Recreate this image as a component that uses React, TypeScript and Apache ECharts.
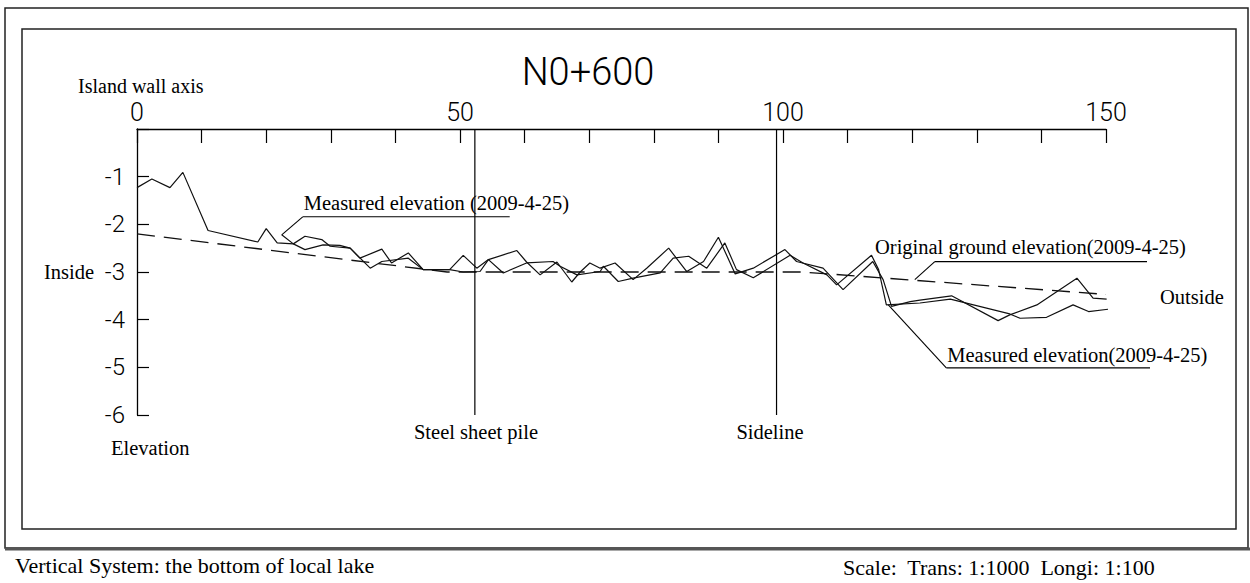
import React, { useEffect, useRef } from "react";
import * as echarts from "echarts";

// ---- data (distance in m, elevation in m) ----
const xTickLabels = [0, 50, 100, 150];
const yTickValues = [-1, -2, -3, -4, -5, -6];

const originalGround: [number, number][] = [
  [0, -2.2], [48, -3.0], [103, -3.0], [150, -3.47],
];

const measuredA: [number, number][] = [
  [0, -1.23], [2.3, -1.05], [5.1, -1.23], [7.1, -0.91], [11, -2.13],
  [18.7, -2.37], [20, -2.09], [21.7, -2.39], [24.2, -2.41], [26, -2.53],
  [28.8, -2.43], [31.4, -2.44], [33, -2.5], [34.5, -2.71], [37.9, -2.52],
  [39.4, -2.81], [42, -2.6], [44.3, -2.95], [48.4, -2.95], [50.5, -2.65],
  [52.6, -2.92], [54.4, -2.74], [58.8, -2.55], [60.3, -2.79], [62.4, -3.06],
  [65, -2.79], [67.3, -3.21], [68.6, -3.0], [70.1, -2.81], [71.7, -2.92],
  [74, -2.81], [76.8, -3.16], [78.9, -2.92], [82.3, -2.5], [85.1, -2.99],
  [87.7, -2.78], [90, -2.27], [92.6, -3.04], [95.4, -2.92], [100.3, -2.53],
  [102.1, -2.78], [106.2, -2.92], [109.3, -3.37], [113.9, -2.78], [115.5, -3.16],
  [116.8, -3.72], [119.7, -3.62], [121.2, -3.59], [126.1, -3.5], [133.3, -4.02],
  [135.1, -3.9], [139.3, -3.69], [145.5, -3.13], [148, -3.55], [150.1, -3.57],
];

const measuredB: [number, number][] = [
  [22.4, -2.22], [24.2, -2.41], [26, -2.25], [28.6, -2.32], [29.9, -2.46],
  [33, -2.5], [36.1, -2.92], [37.9, -2.78], [42, -2.71], [44.3, -2.95],
  [48.4, -2.95], [50.5, -3.0], [53.1, -2.99], [54.4, -2.74], [56.7, -3.02],
  [60.3, -2.81], [64.4, -2.78], [65.5, -2.88], [68.1, -3.06], [71.7, -2.99],
  [72.2, -2.88], [74.5, -3.2], [76.8, -3.13], [81, -3.02], [83, -2.71],
  [85.4, -2.67], [88.2, -2.92], [91, -2.39], [92.8, -2.95], [95.4, -3.12],
  [101.1, -2.65], [103.1, -2.81], [106.8, -3.06], [108.3, -3.27], [113.7, -2.65],
  [114.8, -2.95], [116, -3.69], [121.2, -3.65], [125.9, -3.57], [135.1, -3.88],
  [136.7, -3.97], [140.8, -3.95], [144.9, -3.69], [147.3, -3.83], [150.4, -3.78],
];

const steelPileX = 52.3;
const sidelineX = 99;

const SERIF = "'Liberation Serif', 'Times New Roman', serif";
const CAD = "'Roboto Light', Roboto, 'DejaVu Sans', sans-serif";

export default function App() {
  const ref = useRef<HTMLDivElement>(null);

  useEffect(() => {
    const chart = echarts.init(ref.current!, null, { renderer: "svg" });
    const lineStyle = { color: "#111", width: 1.2 };
    chart.setOption({
      animation: false,
      backgroundColor: "#fff",
      grid: { left: 137, top: 129, right: 144, bottom: 168 },
      xAxis: {
        type: "value",
        position: "top",
        min: 0,
        max: 150,
        interval: 10,
        axisLine: { show: true, lineStyle: { color: "#000", width: 1.3 } },
        axisTick: { show: true, inside: true, length: 14, lineStyle: { color: "#000", width: 1.2 } },
        splitLine: { show: false },
        axisLabel: {
          margin: 4,
          showMinLabel: true,
          showMaxLabel: true,
          formatter: (v: number) => (xTickLabels.includes(v) ? String(v) : ""),
          fontSize: 25,
          lineHeight: 25,
          fontFamily: CAD,
          fontWeight: 300,
          color: "#000",
        },
      },
      yAxis: {
        type: "value",
        min: -6,
        max: 0,
        interval: 1,
        axisLine: { show: true, lineStyle: { color: "#000", width: 1.3 } },
        axisTick: { show: true, inside: true, length: 12, lineStyle: { color: "#000", width: 1.2 } },
        splitLine: { show: false },
        axisLabel: {
          margin: 12,
          formatter: (v: number) => (yTickValues.includes(v) ? String(v) : ""),
          fontSize: 24,
          fontFamily: CAD,
          fontWeight: 300,
          color: "#000",
        },
      },
      series: [
        {
          type: "line",
          name: "Original ground elevation",
          data: originalGround,
          showSymbol: false,
          lineStyle: { color: "#111", width: 1.3, type: [18, 9] },
        },
        {
          type: "line",
          name: "Measured A",
          data: measuredA,
          showSymbol: false,
          lineStyle,
        },
        {
          type: "line",
          name: "Measured B",
          data: measuredB,
          showSymbol: false,
          lineStyle,
        },
        {
          type: "line",
          name: "Steel sheet pile",
          data: [[steelPileX, 0], [steelPileX, -6]],
          showSymbol: false,
          lineStyle: { color: "#000", width: 1.2 },
        },
        {
          type: "line",
          name: "Sideline",
          data: [[sidelineX, 0], [sidelineX, -6]],
          showSymbol: false,
          lineStyle: { color: "#000", width: 1.2 },
        },
      ],
    });

    const px = (x: number, y: number) => chart.convertToPixel({ gridIndex: 0 }, [x, y]) as number[];
    const ln = (a: number[], b: number[]) => ({
      type: "line",
      shape: { x1: a[0], y1: a[1], x2: b[0], y2: b[1] },
      style: { stroke: "#000", lineWidth: 1.1 },
      silent: true,
    });
    const txt = (text: string, x: number, y: number, o: any = {}) => ({
      type: "text",
      x,
      y,
      style: {
        text,
        fill: "#000",
        fontSize: o.size || 20.5,
        fontFamily: o.family || SERIF,
        fontWeight: o.weight || "normal",
        align: o.align || "left",
        verticalAlign: "middle",
      },
      silent: true,
    });

    // leader anchors from data points
    const upStart = px(measuredB[0][0], measuredB[0][1]);
    const upKnee = [upStart[0] + 21, upStart[1] - 18];
    const upEnd = [upKnee[0] + 207, upKnee[1]];

    const ogStart = px(120.4, -3.16);
    const ogKnee = [ogStart[0] + 20, ogStart[1] - 18];
    const ogEnd = [1147, ogKnee[1]];

    const meStart = px(116.3, -3.69);
    const meKnee = [meStart[0] + 58, meStart[1] + 63];
    const meEnd = [1150, meKnee[1]];

    chart.setOption({
      graphic: [
        { type: "rect", shape: { x: 5, y: 8, width: 1243, height: 540 }, style: { fill: "none", stroke: "#222", lineWidth: 1.5 }, silent: true },
        { type: "line", shape: { x1: 5, y1: 549, x2: 1250, y2: 549 }, style: { stroke: "#555", lineWidth: 3 }, silent: true },
        { type: "rect", shape: { x: 22, y: 29, width: 1214, height: 500 }, style: { fill: "none", stroke: "#222", lineWidth: 1.5 }, silent: true },
        txt("N0+600", 588, 72, { size: 38, family: CAD, weight: 300, align: "center" }),
        txt("Island wall axis", 78, 86, { size: 20 }),
        txt("Inside", 94, 272, { align: "right" }),
        txt("Elevation", 111, 448),
        txt("Steel sheet pile", 476, 432, { align: "center" }),
        txt("Sideline", 770, 432, { align: "center" }),
        txt("Outside", 1160, 297),
        ln(upStart, upKnee),
        ln(upKnee, upEnd),
        txt("Measured elevation (2009-4-25)", upKnee[0] + 1, upKnee[1] - 14),
        ln(ogStart, ogKnee),
        ln(ogKnee, ogEnd),
        txt("Original ground elevation(2009-4-25)", 875, 247),
        ln(meStart, meKnee),
        ln(meKnee, meEnd),
        txt("Measured elevation(2009-4-25)", meKnee[0] + 1, meKnee[1] - 13),
        txt("Vertical System: the bottom of local lake", 15, 565, { size: 22 }),
        txt("Scale:  Trans: 1:1000  Longi: 1:100", 843, 567, { size: 22 }),
      ],
    });

    return () => chart.dispose();
  }, []);

  return (
    <div
      ref={ref}
      style={{ position: "absolute", left: 0, top: 0, width: 1250, height: 583, background: "#fff" }}
    />
  );
}
